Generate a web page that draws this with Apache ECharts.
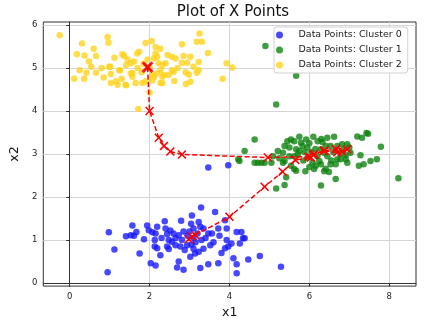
<!DOCTYPE html>
<html>
<head>
<meta charset="utf-8">
<script src="https://cdn.jsdelivr.net/npm/echarts@6/dist/echarts.min.js"></script>
<style>
  html, body { margin: 0; padding: 0; background: #fff; }
  #chart { width: 438px; height: 324px; }
</style>
</head>
<body>
<div id="chart"></div>
<script>
// Scatter points per cluster, [x1, x2]
const cluster0 = [
  [0.98,1.18],[1.12,0.78],[0.95,0.25],[1.41,1.09],[1.53,1.11],[1.61,1.10],[1.67,1.19],[1.57,1.34],
  [1.75,0.69],[1.86,1.02],[1.94,1.34],[1.98,1.23],[2.07,1.18],[2.15,1.15],[2.19,1.31],[2.13,1.0],
  [2.13,0.85],[2.19,0.81],[2.03,0.46],[2.15,0.41],[2.27,0.65],[2.38,1.44],[2.40,1.27],[2.52,1.22],
  [2.44,1.14],[2.48,1.0],[2.56,0.96],[2.65,1.04],[2.44,0.85],[2.48,0.79],[2.65,0.88],[2.77,0.85],
  [2.73,0.50],[2.69,0.36],[2.85,0.31],[2.79,1.45],[2.73,1.11],[2.81,1.0],[2.94,0.88],[2.88,0.77],
  [3.02,0.61],[3.14,0.69],[3.23,0.73],[3.06,1.57],[3.04,1.38],[3.10,1.27],[3.23,1.42],[3.27,1.31],
  [3.35,1.27],[3.29,1.76],[3.27,0.35],[3.47,0.44],[3.72,0.46],[3.47,1.15],[3.56,1.15],[3.52,0.88],
  [3.64,1.65],[3.72,1.27],[3.89,1.46],[3.93,1.27],[3.93,1.0],[3.89,0.81],[3.97,0.85],[4.05,0.92],
  [4.10,0.58],[4.18,0.44],[4.18,0.23],[4.18,1.19],[4.30,1.19],[4.34,1.04],[4.38,1.04],[4.26,0.92],
  [4.47,0.55],[4.76,0.63],[5.29,0.38],[3.47,2.69],[3.97,2.74],[2.95,1.1],[3.0,1.2],[3.1,1.05],
  [3.15,0.95],[3.2,1.15],[3.3,1.0],[2.85,1.2],[3.05,0.9],[3.4,1.05],[3.6,0.95],[3.75,1.1],
  [2.6,1.15],[2.3,1.05],[3.8,0.7],[3.1,0.8],[3.35,0.8]
];
const cluster1 = [
  [4.90,5.51],[5.67,4.82],[5.17,4.15],[4.63,3.34],[4.38,3.07],[4.22,2.88],[4.25,2.84],[4.63,2.80],
  [4.71,2.80],[4.80,2.80],[4.88,2.80],[5.05,2.80],[5.09,2.95],[5.21,3.07],[5.34,3.03],[5.38,3.19],
  [5.54,3.34],[5.62,3.30],[5.50,3.15],[5.67,3.11],[5.75,3.07],[5.79,3.26],[5.92,3.34],[5.83,3.19],
  [5.71,2.99],[5.62,2.95],[5.38,2.84],[5.34,2.80],[5.54,2.73],[5.62,2.65],[5.67,2.61],[5.42,2.46],
  [5.38,2.28],[5.17,2.20],[5.96,2.92],[6.08,2.80],[6.16,2.73],[6.25,2.84],[6.29,2.76],[6.12,2.65],
  [6.29,2.27],[6.37,2.60],[6.49,2.58],[6.41,2.66],[6.53,2.76],[6.66,2.76],[6.70,2.88],[6.66,2.42],
  [6.21,3.30],[6.33,3.28],[6.45,3.38],[6.62,3.40],[6.41,3.19],[6.53,3.19],[6.70,3.19],[6.82,3.23],
  [6.95,3.23],[6.29,3.11],[6.37,3.03],[6.78,3.0],[6.91,2.97],[7.03,3.03],[6.78,2.88],[6.91,2.88],
  [7.20,3.41],[7.32,3.38],[7.43,3.49],[7.47,3.47],[7.28,2.97],[7.24,2.73],[7.36,2.76],[7.53,2.84],
  [7.69,2.88],[7.79,3.17],[8.23,2.44],[5.88,3.05],[5.95,3.15],[6.0,3.25],[6.05,3.05],[6.15,3.12],
  [5.85,2.85],[6.0,2.7],[6.2,2.95],[6.45,2.95],[6.6,3.05],[5.5,2.95],[5.25,2.9],[5.45,3.3],
  [6.1,3.4],[5.75,3.4],[6.55,2.85],[6.85,3.1],[7.0,3.15],[6.95,2.8],[5.9,2.6],[6.3,3.35]
];
const cluster2 = [
  [-0.25,5.76],[0.31,5.57],[0.95,5.72],[0.97,5.59],[0.18,5.32],[0.37,5.29],[0.66,5.28],[0.48,5.15],
  [0.54,5.03],[0.42,4.89],[0.66,4.89],[0.11,4.75],[0.36,4.75],[1.01,5.03],[1.03,4.86],[1.12,5.24],
  [1.32,5.32],[1.36,5.28],[1.26,4.95],[1.41,5.07],[1.53,5.11],[1.61,5.15],[1.57,4.88],[1.69,5.34],
  [1.74,5.38],[1.57,4.80],[1.65,4.65],[1.82,4.65],[1.90,4.69],[1.03,4.65],[1.16,4.69],[1.20,4.61],
  [1.41,4.60],[1.90,5.58],[2.05,5.63],[2.15,5.49],[2.27,5.45],[2.15,5.34],[2.11,5.23],[2.19,5.26],
  [2.23,5.11],[2.32,5.07],[2.40,5.11],[2.27,4.95],[2.19,4.88],[2.36,4.84],[2.07,4.84],[2.07,4.71],
  [2.27,4.65],[2.48,4.84],[2.60,4.91],[2.56,5.26],[2.65,5.22],[2.81,5.55],[2.85,5.28],[3.02,5.26],
  [2.81,5.12],[2.94,5.12],[2.98,4.85],[3.02,4.68],[2.91,4.63],[3.18,5.61],[3.25,5.80],[3.31,5.61],
  [3.10,5.03],[3.23,4.95],[3.18,4.89],[3.46,5.35],[3.23,5.14],[3.93,5.11],[4.07,5.01],[3.83,4.75],
  [2.00,4.43],[1.72,4.05],[0.99,5.03],[1.24,4.95],[1.53,4.88],[1.40,4.61],[2.32,4.80],[2.11,4.80],
  [2.56,4.95],[2.32,4.65],[1.85,5.1],[1.95,5.2],[1.8,4.9],[2.0,5.0],[1.7,5.0],[1.45,5.2],
  [0.8,5.0],[0.25,4.95],[0.6,5.45],[2.45,5.3],[2.7,5.0],[2.9,4.9],[1.3,4.75],[0.85,4.78],[2.62,4.7]
];

// Centroid trajectories across iterations
const pathA = [
  [1.95,5.02],[2.0,4.0],[2.23,3.38],[2.36,3.19],[2.52,3.06],[2.81,2.99],[4.96,2.92],
  [5.98,2.94],[6.1,2.98],[6.38,3.08],[6.66,3.12],[6.82,3.06],[6.95,3.11]
];
const pathB = [
  [2.98,1.02],[3.06,1.08],[3.14,1.12],[4.0,1.54],[4.88,2.24],[5.33,2.59],[5.65,2.86],
  [6.04,2.92],[6.12,3.0],[6.36,3.07],[6.7,3.04]
];
const finalCentroid = [[1.95,5.02]];

const xTicks = [0, 2, 4, 6, 8];
const yTicks = [0, 1, 2, 3, 4, 5, 6];

const FONT = 'DejaVu Sans';
const crossPath = 'path://M0,1.2L1.2,0L5,3.8L8.8,0L10,1.2L6.2,5L10,8.8L8.8,10L5,6.2L1.2,10L0,8.8L3.8,5Z';
const crossBold = 'path://M0,1.8L1.8,0L5,3.2L8.2,0L10,1.8L6.8,5L10,8.2L8.2,10L5,6.8L1.8,10L0,8.2L3.2,5Z';

function scatter(name, data, color) {
  return {
    name: name,
    type: 'scatter',
    data: data,
    symbol: 'circle',
    symbolSize: 6.5,
    itemStyle: { color: color, opacity: 0.78 },
    z: 2
  };
}

function centroidLine(data) {
  return {
    type: 'line',
    data: data,
    symbol: crossPath,
    symbolSize: 9,
    showSymbol: true,
    lineStyle: { color: '#ff0000', width: 1.5, type: [5, 2.5] },
    itemStyle: { color: '#ff0000' },
    silent: true,
    z: 5,
    animation: false
  };
}

const chart = echarts.init(document.getElementById('chart'), null, { renderer: 'canvas' });
chart.setOption({
  animation: false,
  backgroundColor: '#ffffff',
  textStyle: { fontFamily: FONT },
  title: {
    text: 'Plot of X Points',
    left: 228,
    textAlign: 'center',
    top: 0,
    textStyle: { fontFamily: FONT, fontSize: 15, fontWeight: 'normal', color: '#111' }
  },
  legend: {
    orient: 'vertical',
    left: 274,
    top: 27,
    padding: [3, 6, 3, 2],
    itemWidth: 28,
    itemHeight: 7,
    itemGap: 5,
    backgroundColor: 'rgba(255,255,255,0.85)',
    borderColor: '#d0d0d0',
    borderWidth: 1,
    borderRadius: 3,
    textStyle: { fontFamily: FONT, fontSize: 9.5, color: '#222' },
    data: [
      { name: 'Data Points: Cluster 0', icon: 'circle' },
      { name: 'Data Points: Cluster 1', icon: 'circle' },
      { name: 'Data Points: Cluster 2', icon: 'circle' }
    ]
  },
  grid: { left: 40, right: 22, top: 22, bottom: 36, show: true, borderColor: '#333', borderWidth: 1 },
  xAxis: {
    type: 'value',
    min: -0.66,
    max: 8.67,
    name: 'x1',
    nameLocation: 'middle',
    nameGap: 17,
    nameTextStyle: { fontFamily: FONT, fontSize: 12.5, color: '#111' },
    axisLine: { show: true, lineStyle: { color: '#333', width: 1 } },
    axisTick: { show: true, inside: false, length: 3.5, customValues: xTicks, lineStyle: { color: '#333' } },
    axisLabel: { customValues: xTicks, fontFamily: FONT, fontSize: 8.5, color: '#222', margin: 6 },
    splitLine: { show: true, lineStyle: { color: '#d6d6d6', width: 1 } }
  },
  yAxis: {
    type: 'value',
    min: -0.07,
    max: 6.07,
    name: 'x2',
    nameLocation: 'middle',
    nameGap: 20,
    nameTextStyle: { fontFamily: FONT, fontSize: 12.5, color: '#111' },
    axisLine: { show: true, lineStyle: { color: '#333', width: 1 } },
    axisTick: { show: true, inside: false, length: 3.5, customValues: yTicks, lineStyle: { color: '#333' } },
    axisLabel: { customValues: yTicks, fontFamily: FONT, fontSize: 8.5, color: '#222', margin: 6 },
    splitLine: { show: true, lineStyle: { color: '#d6d6d6', width: 1 } }
  },
  series: [
    scatter('Data Points: Cluster 0', cluster0, '#1414ff'),
    scatter('Data Points: Cluster 1', cluster1, '#0a800a'),
    scatter('Data Points: Cluster 2', cluster2, '#ffd21a'),
    centroidLine(pathA),
    centroidLine(pathB),
    {
      type: 'scatter',
      data: finalCentroid,
      symbol: crossBold,
      symbolSize: 12,
      itemStyle: { color: '#ff0000' },
      silent: true,
      z: 6
    }
  ]
});
</script>
</body>
</html>
